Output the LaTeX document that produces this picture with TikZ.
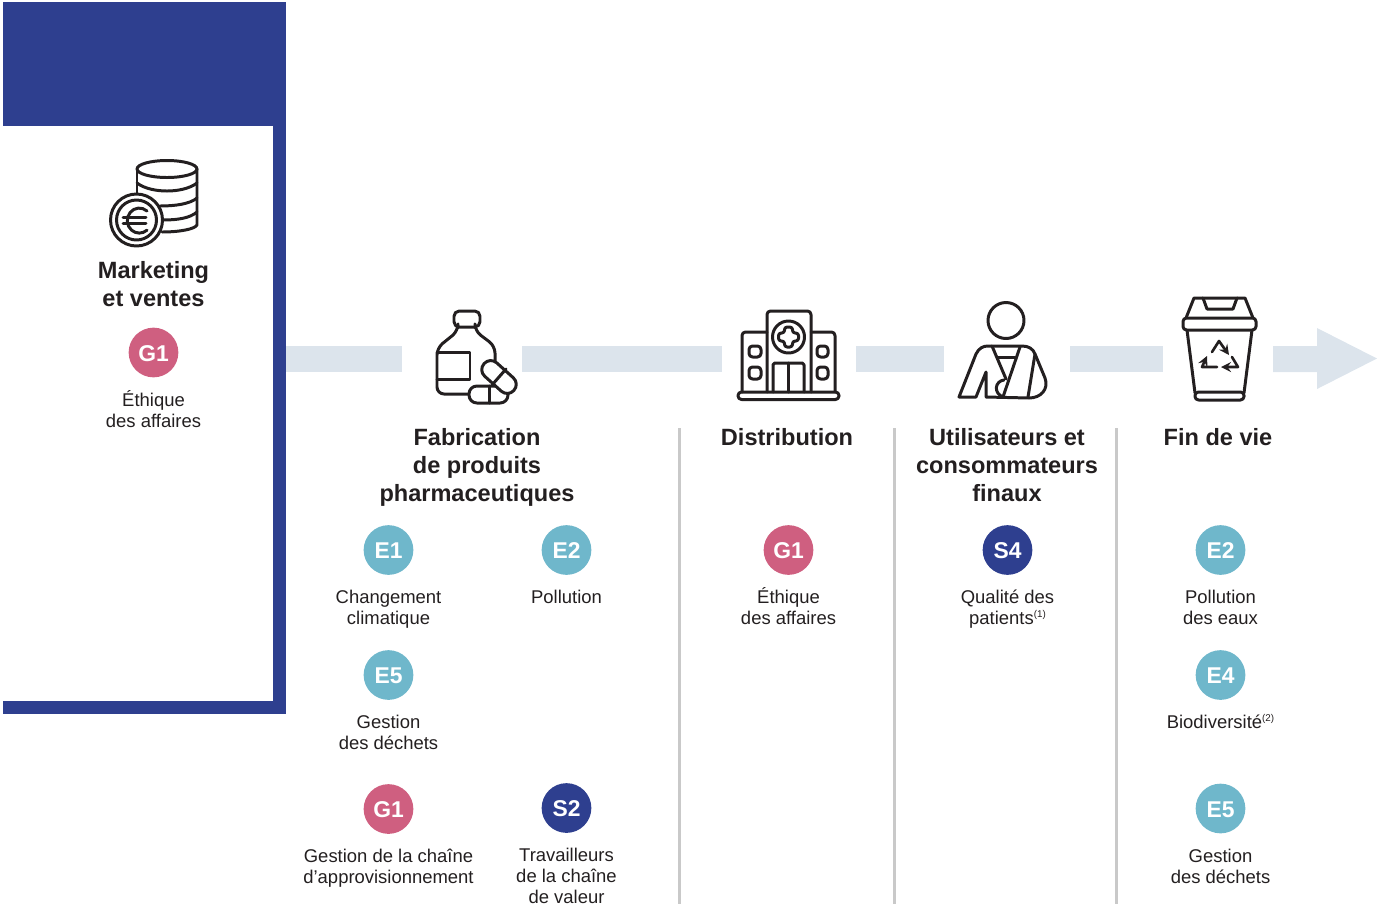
\documentclass[tikz,border=0pt]{standalone}
\usepackage{fontspec}
\setmainfont{Liberation Sans}
\usepackage{tikz}
\usetikzlibrary{shapes,arrows,positioning}
\definecolor{framecol}{HTML}{2E3F8F}
\definecolor{pinkcol}{HTML}{CF5F80}
\definecolor{tealcol}{HTML}{6FB7CB}
\definecolor{barcol}{HTML}{DCE4EC}
\definecolor{sepcol}{HTML}{C9C9C9}
\definecolor{inkcol}{HTML}{231F20}
\newcommand{\noteref}[1]{\raisebox{4pt}{\fontsize{5.6}{6}\selectfont (#1)}}
\newcommand{\capstrut}{\rule{0pt}{9.4pt}}
\tikzset{
  badge/.style={circle,minimum size=28.3pt,inner sep=0pt,text=white,text height=10pt,text depth=0pt,font=\fontsize{13}{13}\selectfont\bfseries},
  pinkbadge/.style={badge,fill=pinkcol},
  tealbadge/.style={badge,fill=tealcol},
  bluebadge/.style={badge,fill=framecol},
  desc/.style={align=center,inner sep=0pt,text=inkcol,font=\fontsize{10.5}{11.9}\selectfont,below=6.7pt of #1},
  heading/.style={align=center,inner sep=0pt,anchor=north,text=inkcol,font=\fontsize{13.4}{16.1}\selectfont\bfseries},
  icon/.style={draw=inkcol,line width=1.7pt,line join=round,line cap=round},
  sep/.style={draw=sepcol,line width=1.7pt},
}
\begin{document}
\begin{tikzpicture}[x=0.02cm,y=-0.02cm]
\useasboundingbox (0,0) rectangle (1379,907);
% Blue frame
\fill[framecol] (3,2) rectangle (286,126);
\fill[framecol] (273,126) rectangle (286,714);
\fill[framecol] (3,701) rectangle (273,714);
% Value chain arrow
\fill[barcol] (286,346) rectangle (402,372);
\fill[barcol] (522,346) rectangle (722,372);
\fill[barcol] (856,346) rectangle (944,372);
\fill[barcol] (1070,346) rectangle (1163,372);
\fill[barcol] (1273,346) -- (1317,346) -- (1317,328) -- (1377,358.5) -- (1317,389) -- (1317,372) -- (1273,372) -- cycle;
% Separators
\draw[sep] (679.5,428) -- (679.5,904);
\draw[sep] (894.5,428) -- (894.5,904);
\draw[sep] (1116,428) -- (1116,904);
% Coins
\draw[icon] (167,169) ellipse (30 and 8.5);
\draw[icon] (137,169) -- (137,193);
\draw[icon] (197,169) -- (197,225) .. controls (195,229) and (180,232) .. (162,232);
\draw[icon] (137,183) .. controls (145,189) and (157,191) .. (167,191) .. controls (177,191) and (189,189) .. (197,183);
\draw[icon] (160,206) .. controls (175,206) and (190,204) .. (197,198);
\draw[icon] (163,220) .. controls (178,220) and (190,218) .. (197,212);
\draw[icon,fill=white] (136.5,220) circle (26);
\draw[icon] (136.5,220) circle (20);
\draw[icon] (147,211) arc (-50:-310:12 and 12.5);
\draw[icon] (123,217) -- (146,217);
\draw[icon] (123,223) -- (146,223);
% Bottle and pills
\draw[icon,rounded corners=3pt] (454,311) rectangle (480,327);
\draw[icon,rounded corners=4pt] (458,328) -- (458,331) -- (437,348) -- (437,394) -- (468,394);
\draw[icon,rounded corners=4pt] (475,328) -- (475,331) -- (495,346) -- (495,362);
\draw[icon] (437,352) -- (470,352) -- (470,379) -- (437,379);
\draw[icon,fill=white,rounded corners=4.5pt] (469,386) rectangle (508,403);
\draw[icon] (489,386) -- (489,403);
\draw[icon,fill=white,rounded corners=5pt,rotate around={-42:(499,377)}] (479,368) rectangle (519,386);
\draw[icon] (492,385) -- (506,369);
% Hospital
\draw[icon,rounded corners=2pt] (738,392) rectangle (839,399.5);
\draw[icon,rounded corners=2pt] (767,392) -- (767,311) -- (811,311) -- (811,392);
\draw[icon,rounded corners=2pt] (767,332) -- (742,332) -- (742,392);
\draw[icon,rounded corners=2pt] (811,332) -- (835,332) -- (835,392);
\draw[icon] (788.5,337) circle (16);
\draw[icon,rounded corners=1.5pt] (784.5,327) -- (792.5,327) -- (792.5,333) -- (798.5,333) -- (798.5,341) -- (792.5,341) -- (792.5,347) -- (784.5,347) -- (784.5,341) -- (778.5,341) -- (778.5,333) -- (784.5,333) -- cycle;
\draw[icon,rounded corners=2pt] (749,346) rectangle (761,357);
\draw[icon,rounded corners=2pt] (749,367) rectangle (761,379);
\draw[icon,rounded corners=2pt] (817,346) rectangle (828,357);
\draw[icon,rounded corners=2pt] (817,367) rectangle (828,379);
\draw[icon,rounded corners=1pt] (773,392) -- (773,363) -- (804,363) -- (804,392);
\draw[icon] (788.5,363) -- (788.5,392);
% Patient
\draw[icon] (1006,320.5) circle (18);
\draw[icon] (959,397) -- (976,354) .. controls (979,348) and (983,346) .. (988,346) -- (1022,346) .. controls (1029,346) and (1033,349) .. (1035,354) -- (1045,378) .. controls (1049,389) and (1041,398) .. (1029,398) -- (986,397) -- (986,372) -- (976,397) -- cycle;
\draw[icon] (992,346) -- (1006,379);
\draw[icon] (1020,347) -- (1003,397);
\draw[icon] (997,357) -- (1015,357);
\draw[icon] (1035,354) -- (1028,397);
\draw[icon] (1004,380) .. controls (995,381) and (993,393) .. (1003,397);
% Waste bin
\draw[icon] (1186,318) -- (1194,298) -- (1245,298) -- (1253,318);
\draw[icon] (1203,298) -- (1207,309) -- (1233,309) -- (1237,298);
\draw[icon,rounded corners=2pt] (1183,318) rectangle (1256,330);
\draw[icon] (1187,330) -- (1195,393);
\draw[icon] (1252,330) -- (1244,393);
\draw[icon,rounded corners=2pt] (1195,392) rectangle (1244,400);
\draw[icon,line width=1.5pt,-stealth] (1212,352) -- (1219,341) -- (1229,355);
\draw[icon,line width=1.5pt,-stealth] (1232,357) -- (1238,367) -- (1221,367);
\draw[icon,line width=1.5pt,-stealth] (1217,367) -- (1202,367) -- (1207,356);
% Marketing
\node[heading] (marketing) at (153.5,261) {Marketing\\et ventes};
\node[pinkbadge] (g1a) at (153.5,352.5) {G1};
\node[desc=g1a] (g1atext) {\capstrut Éthique\\des affaires};
% Fabrication
\node[heading] (fabrication) at (477,428) {Fabrication\\de produits\\pharmaceutiques};
\node[tealbadge] (e1a) at (388.5,550) {E1};
\node[desc=e1a] (e1atext) {\capstrut Changement\\climatique};
\node[tealbadge] (e2a) at (566.5,550) {E2};
\node[desc=e2a] (e2atext) {\capstrut Pollution};
\node[tealbadge] (e5a) at (388.5,675) {E5};
\node[desc=e5a] (e5atext) {\capstrut Gestion\\des déchets};
\node[pinkbadge] (g1b) at (388.5,809) {G1};
\node[desc=g1b] (g1btext) {\capstrut Gestion de la chaîne\\d’approvisionnement};
\node[bluebadge] (s2a) at (566.5,808) {S2};
\node[desc=s2a] (s2atext) {\capstrut Travailleurs\\de la chaîne\\de valeur};
% Distribution
\node[heading] (distribution) at (787,428) {Distribution};
\node[pinkbadge] (g1c) at (788.5,550) {G1};
\node[desc=g1c] (g1ctext) {\capstrut Éthique\\des affaires};
% Utilisateurs
\node[heading] (users) at (1007,428) {Utilisateurs et\\consommateurs\\finaux};
\node[bluebadge] (s4a) at (1007.5,550) {S4};
\node[desc=s4a] (s4atext) {\capstrut Qualité des\\patients\noteref{1}};
% Fin de vie
\node[heading] (endlife) at (1218,428) {Fin de vie};
\node[tealbadge] (e2b) at (1220.5,550) {E2};
\node[desc=e2b] (e2btext) {\capstrut Pollution\\des eaux};
\node[tealbadge] (e4a) at (1220.5,675) {E4};
\node[desc=e4a] (e4atext) {\capstrut Biodiversité\noteref{2}};
\node[tealbadge] (e5b) at (1220.5,808.5) {E5};
\node[desc=e5b] (e5btext) {\capstrut Gestion\\des déchets};
\end{tikzpicture}
\end{document}
